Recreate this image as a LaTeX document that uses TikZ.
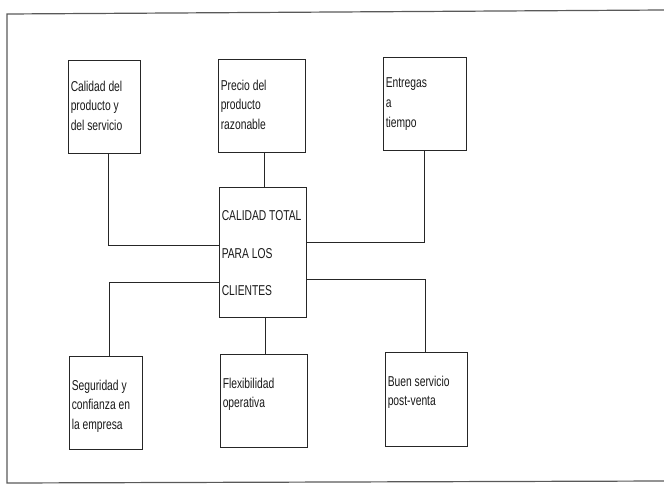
\documentclass[tikz,border=0pt]{standalone}
\usepackage{fontspec}
\newfontfamily\boxfont[FakeStretch=0.72]{Liberation Sans}
\usetikzlibrary{positioning}

\begin{document}
\begin{tikzpicture}[x=1pt,y=-1pt,
    factor/.style={draw=black!85,line width=0.9pt,inner sep=0pt},
    factortxt/.style={anchor=north west,inner sep=0pt,align=left,text=black!90,
      font=\boxfont\fontsize{14.3}{19.8}\selectfont},
    link/.style={draw=black!85,line width=0.9pt}]
  \useasboundingbox (0,0) rectangle (664,493);
  % outer frame (right side is cut off)
  \draw[black!65,line width=1.2pt] (664,10) -- (7,14) -- (7,483) -- (664,481);

  % central box
  \node[factor,minimum width=87pt,minimum height=130pt] (ctq) at (262.5,252) {};
  \node[factortxt,font=\boxfont\fontsize{14.3}{37.5}\selectfont]
       (ctqt) at ([shift={(3pt,-24pt)}]ctq.north west) {CALIDAD TOTAL\\PARA LOS\\CLIENTES};

  % upper row
  \node[factor,minimum width=72pt,minimum height=93pt] (cal) at (104,106.5) {};
  \node[factortxt] (calt) at ([shift={(3pt,-21pt)}]cal.north west) {Calidad del\\producto  y\\del servicio};
  \node[factor,minimum width=87pt,minimum height=93pt] (pre) at (261.5,105.5) {};
  \node[factortxt] (pret) at ([shift={(3pt,-21pt)}]pre.north west) {Precio del\\producto\\razonable};
  \node[factor,minimum width=83pt,minimum height=93pt] (ent) at (424.5,103.5) {};
  \node[factortxt] (entt) at ([shift={(3pt,-21pt)}]ent.north west) {Entregas\\a\\tiempo};

  % lower row
  \node[factor,minimum width=73pt,minimum height=93pt] (seg) at (105.5,402.5) {};
  \node[factortxt] (segt) at ([shift={(3pt,-24pt)}]seg.north west) {Seguridad y\\confianza en\\la empresa};
  \node[factor,minimum width=87pt,minimum height=93pt] (flx) at (263.5,400.5) {};
  \node[factortxt] (flxt) at ([shift={(3pt,-24pt)}]flx.north west) {Flexibilidad\\operativa};
  \node[factor,minimum width=82pt,minimum height=94pt] (bsv) at (426,399) {};
  \node[factortxt] (bsvt) at ([shift={(3pt,-24pt)}]bsv.north west) {Buen servicio\\post-venta};

  % connectors
  \draw[link] ([xshift=4pt]cal.south) |- ([yshift=7pt]ctq.west);
  \draw[link] ([xshift=3pt]pre.south) -- ([xshift=2pt]ctq.north);
  \draw[link] (ent.south) |- ([yshift=10pt]ctq.east);
  \draw[link] ([xshift=4pt]seg.north) |- ([yshift=-30pt]ctq.west);
  \draw[link] ([xshift=2pt]flx.north) -- ([xshift=3pt]ctq.south);
  \draw[link] ([xshift=-1pt]bsv.north) |- ([yshift=-27pt]ctq.east);
\end{tikzpicture}
\end{document}
